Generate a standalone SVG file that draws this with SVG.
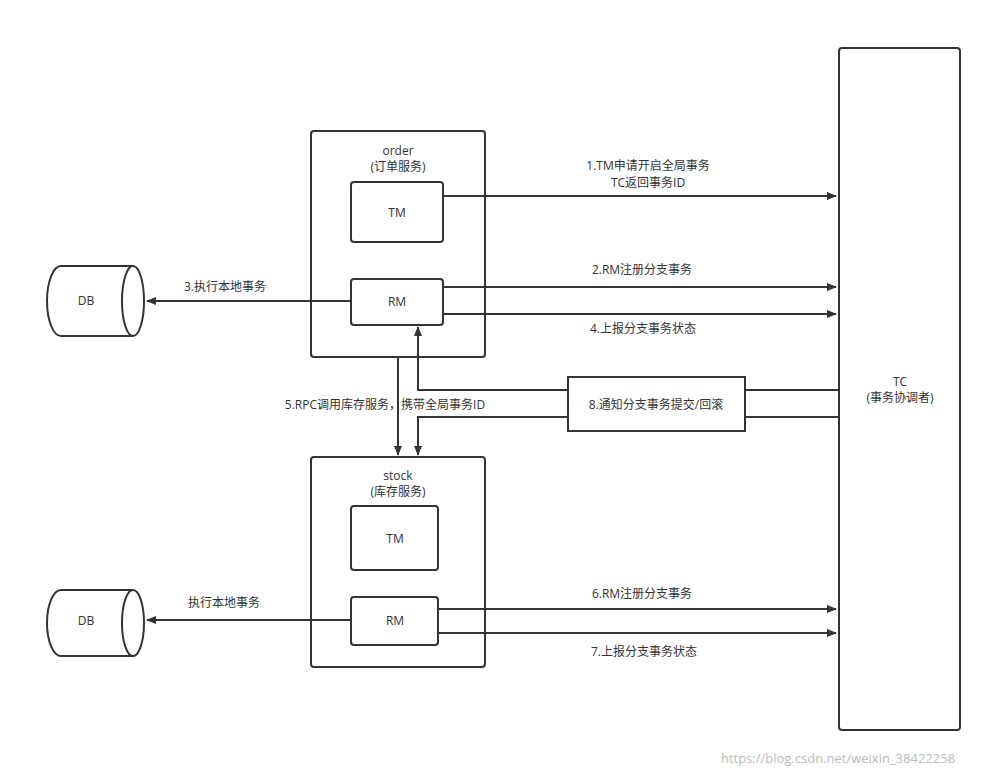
<svg xmlns="http://www.w3.org/2000/svg" width="983" height="776" viewBox="0 0 983 776">
<defs>
<style>
.b{fill:#fff;stroke:#333;stroke-width:2}
.l{fill:none;stroke:#333;stroke-width:2}
text{font-family:"Open Sans","Noto Sans CJK SC",sans-serif;font-size:12px;fill:#333;text-anchor:middle}
</style>
<marker id="a" markerWidth="10" markerHeight="8" refX="9" refY="4" orient="auto" markerUnits="userSpaceOnUse"><path d="M0,0L10,4L0,8Z" fill="#333"/></marker>
</defs>
<rect width="983" height="776" fill="#fff"/>
<g id="tc"><rect class="b" x="839" y="48" width="121" height="682" rx="3"/><text x="900" y="386">TC</text><text x="900" y="402">(事务协调者)</text></g>
<g id="order"><rect class="b" x="311" y="131" width="174" height="226" rx="3"/><text x="398" y="155">order</text><text x="398" y="171">(订单服务)</text></g>
<g id="order-tm"><rect class="b" x="351" y="182" width="92" height="60" rx="3"/><text x="397" y="217">TM</text></g>
<g id="stock"><rect class="b" x="311" y="457" width="174" height="210" rx="3"/><text x="398" y="480">stock</text><text x="398" y="496">(库存服务)</text></g>
<g id="stock-tm"><rect class="b" x="351" y="506" width="87" height="64" rx="3"/><text x="395" y="543">TM</text></g>
<g id="db1"><path class="b" d="M133,266H61A14,35 0 0 0 61,336H133"/><ellipse class="b" cx="133" cy="301" rx="11" ry="35"/><text x="86" y="305">DB</text></g>
<g id="db2"><path class="b" d="M133,590H61A14,33 0 0 0 61,656H133"/><ellipse class="b" cx="133" cy="623" rx="11" ry="33"/><text x="86" y="625">DB</text></g>
<g id="connectors">
<path class="l" d="M443,196H836" marker-end="url(#a)"/>
<path class="l" d="M443,287H836" marker-end="url(#a)"/>
<path class="l" d="M443,314H836" marker-end="url(#a)"/>
<path class="l" d="M351,301H147" marker-end="url(#a)"/>
<path class="l" d="M398,357V455" marker-end="url(#a)"/>
<path class="l" d="M839,390H418V327" marker-end="url(#a)"/>
<path class="l" d="M839,417H418V455" marker-end="url(#a)"/>
<path class="l" d="M438,609H836" marker-end="url(#a)"/>
<path class="l" d="M438,633H836" marker-end="url(#a)"/>
<path class="l" d="M351,620H147" marker-end="url(#a)"/>
</g>
<g id="order-rm"><rect class="b" x="351" y="279" width="92" height="46" rx="3"/><text x="397" y="306">RM</text></g>
<g id="stock-rm"><rect class="b" x="351" y="597" width="87" height="48" rx="3"/><text x="395" y="625">RM</text></g>
<g id="n8"><rect class="b" x="568" y="377" width="177" height="54"/><text x="656" y="409">8.通知分支事务提交/回滚</text></g>
<g id="labels">
<text x="648" y="170">1.TM申请开启全局事务</text>
<text x="648" y="187">TC返回事务ID</text>
<text x="642" y="274">2.RM注册分支事务</text>
<text x="643" y="333">4.上报分支事务状态</text>
<text x="225" y="291">3.执行本地事务</text>
<text x="385" y="409">5.RPC调用库存服务，携带全局事务ID</text>
<text x="642" y="598">6.RM注册分支事务</text>
<text x="644" y="656">7.上报分支事务状态</text>
<text x="224" y="607">执行本地事务</text>
<text x="838" y="763" style="fill:#bbb;font-size:13px">https://blog.csdn.net/weixin_38422258</text>
</g>
</svg>
